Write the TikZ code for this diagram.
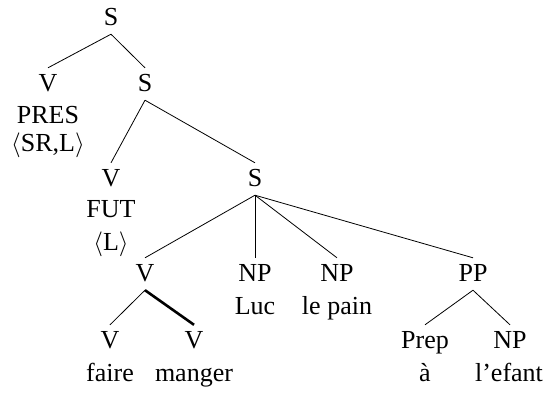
\documentclass[tikz,border=0pt]{standalone}
\usepackage{fontspec}
\setmainfont{Liberation Serif}
\begin{document}
\begin{tikzpicture}[x=1pt,y=-1pt,
  lab/.style={anchor=base,inner xsep=0pt,inner ysep=6pt,text height=17pt,text depth=3pt,font=\fontsize{26}{30}\selectfont},
  word/.style={anchor=base,inner sep=0pt,font=\fontsize{26}{30}\selectfont},
  edge/.style={line width=0.8pt},
  thickedge/.style={line width=2.6pt}]
\useasboundingbox (0,0) rectangle (549,394);
% heads
\node[lab] (s1) at (111,25) {S};
\node[lab] (v1) at (48,91) {V};
\node[lab] (s2) at (145,91) {S};
\node[lab] (v2) at (111,186) {V};
\node[lab] (s3) at (255,186) {S};
\node[lab] (v3) at (145,281) {V};
\node[lab] (np1) at (255,281) {NP};
\node[lab] (np2) at (337,281) {NP};
\node[lab] (pp) at (473,281) {PP};
\node[lab] (v4) at (110,348) {V};
\node[lab] (v5) at (194,348) {V};
\node[lab] (prep) at (425,348) {Prep};
\node[lab] (np3) at (510,348) {NP};
% words
\node[word] (pres) at (48,123) {PRES};
\node[word] (srl) at (48,151) {$\langle$SR,L$\rangle$};
\node[word] (fut) at (111,217) {FUT};
\node[word] (ll) at (111,250) {$\langle$L$\rangle$};
\node[word] (luc) at (255,314) {Luc};
\node[word] (pain) at (337,314) {le pain};
\node[word] (faire) at (110,381) {faire};
\node[word] (manger) at (194,381) {manger};
\node[word] (a) at (425,381) {à};
\node[word] (efant) at (509,381) {l’efant};
% edges
\draw[edge] (s1.south) -- (v1.north);
\draw[edge] (s1.south) -- (s2.north);
\draw[edge] (s2.south) -- (v2.north);
\draw[edge] (s2.south) -- (s3.north);
\draw[edge] (s3.south) -- (v3.north);
\draw[edge] (s3.south) -- (np1.north);
\draw[edge] (s3.south) -- (np2.north);
\draw[edge] (s3.south) -- (pp.north);
\draw[edge] (v3.south) -- (v4.north);
\draw[thickedge] (v3.south) -- (v5.north);
\draw[edge] (pp.south) -- (prep.north);
\draw[edge] (pp.south) -- (np3.north);
\end{tikzpicture}
\end{document}
